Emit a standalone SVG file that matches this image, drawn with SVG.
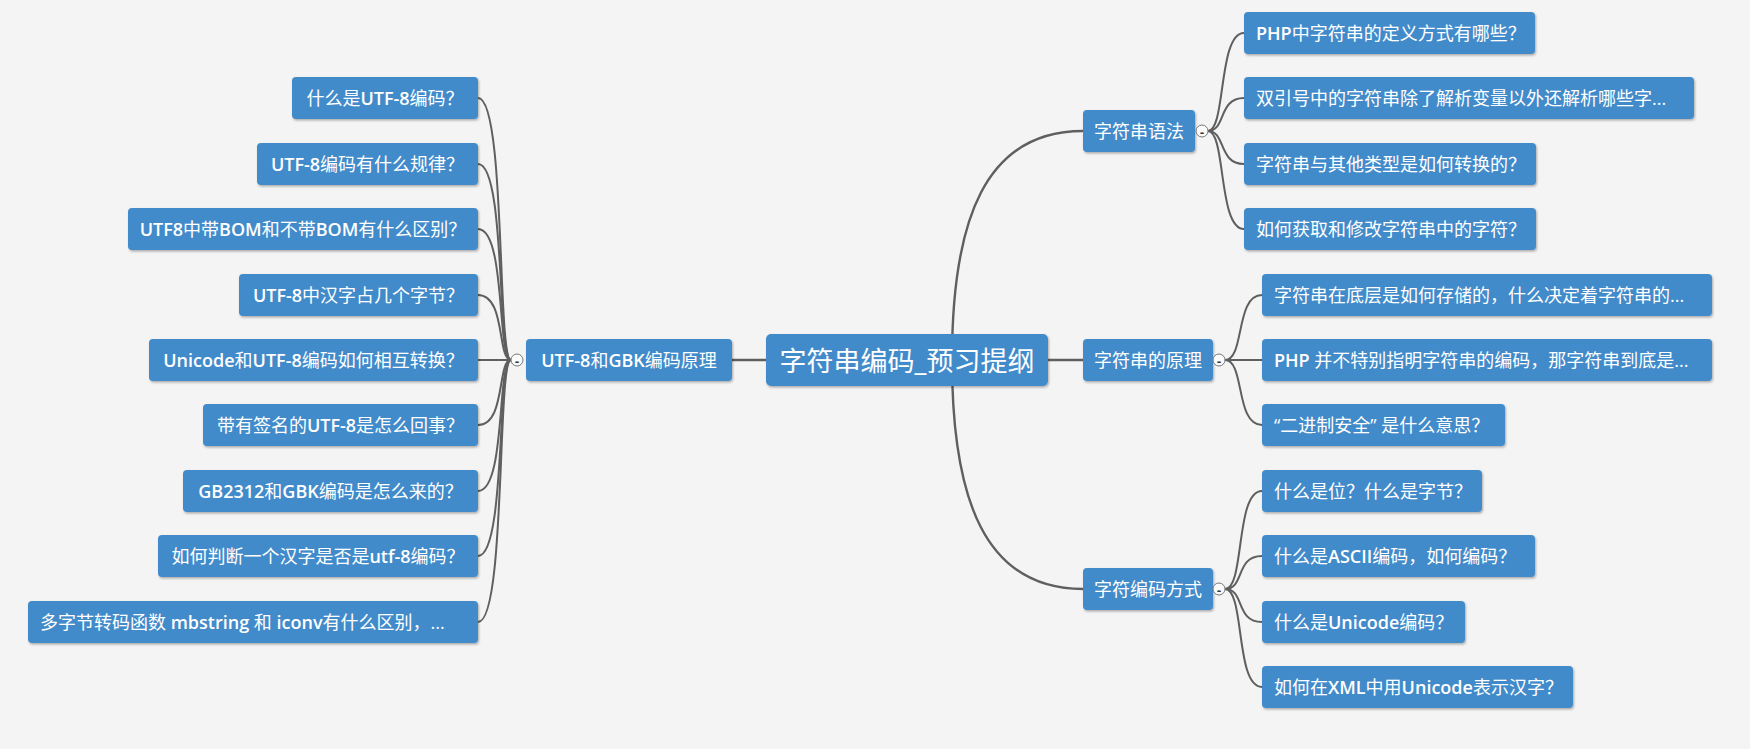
<svg xmlns="http://www.w3.org/2000/svg" width="1750" height="749" viewBox="0 0 1750 749">
<style>
.bg{fill:#f4f4f4}
.box{fill:#428bca;filter:url(#sh)}
.t{font-family:"Open Sans","Noto Sans CJK SC",sans-serif;font-size:18px;fill:#fff;dominant-baseline:central}
.b{font-weight:600}
.m{text-anchor:middle}
.c0{font-size:27px}
.ln{fill:none;stroke:#5f5f5f;stroke-width:2}
.lm{fill:none;stroke:#5f5f5f;stroke-width:2.4}
.tg circle{fill:#fbfbfb;stroke:#777;stroke-width:1}
.tg text{font-family:"DejaVu Sans",sans-serif;font-size:11px;font-weight:bold;fill:#333;text-anchor:middle;dominant-baseline:central}
</style>
<defs>
<filter id="sh" x="-5%" y="-10%" width="112%" height="135%">
<feDropShadow dx="1" dy="1.5" stdDeviation="0.8" flood-color="#000" flood-opacity="0.3"/>
</filter>
</defs>
<rect class="bg" x="0" y="0" width="1750" height="749"/>
<g id="connectors">
<path class="lm" d="M952,360 C952,220 985,131 1083,131"/>
<path class="lm" d="M952,360 C952,500 985,589 1083,589"/>
<path class="lm" d="M1048,360 H1083"/>
<path class="lm" d="M732,360 H766"/>
<path class="ln" d="M511,360 C497,360 506,98 478,98"/>
<path class="ln" d="M511,360 C497,360 506,164 478,164"/>
<path class="ln" d="M511,360 C497,360 506,229 478,229"/>
<path class="ln" d="M511,360 C497,360 506,295 478,295"/>
<path class="ln" d="M511,360 H478"/>
<path class="ln" d="M511,360 C497,360 506,425 478,425"/>
<path class="ln" d="M511,360 C497,360 506,491 478,491"/>
<path class="ln" d="M511,360 C497,360 506,556 478,556"/>
<path class="ln" d="M511,360 C497,360 506,622 478,622"/>
<path class="ln" d="M1208,131 C1226,131 1218,33 1244,33"/>
<path class="ln" d="M1208,131 C1226,131 1218,98 1244,98"/>
<path class="ln" d="M1208,131 C1226,131 1218,164 1244,164"/>
<path class="ln" d="M1208,131 C1226,131 1218,229 1244,229"/>
<path class="ln" d="M1225,360 C1245,360 1235,295 1262,295"/>
<path class="ln" d="M1225,360 H1262"/>
<path class="ln" d="M1225,360 C1245,360 1235,425 1262,425"/>
<path class="ln" d="M1225,589 C1245,589 1235,491 1262,491"/>
<path class="ln" d="M1225,589 C1245,589 1235,556 1262,556"/>
<path class="ln" d="M1225,589 C1245,589 1235,622 1262,622"/>
<path class="ln" d="M1225,589 C1245,589 1235,687 1262,687"/>
</g>
<g id="root">
<rect class="box" x="766" y="334" width="282" height="52" rx="5"/>
<text class="t m c0" x="907" y="360">字符串编码_预习提纲</text>
</g>
<g id="utf8gbk">
<rect class="box" x="526" y="339" width="206" height="42" rx="4"/>
<text class="t m" x="629" y="360"><tspan class="b">UTF-8</tspan>和<tspan class="b">GBK</tspan>编码原理</text>
<g class="tg"><circle cx="517" cy="360" r="6"/><text x="517" y="361">-</text></g>
</g>
<g id="syntax">
<rect class="box" x="1083" y="110" width="112" height="42" rx="4"/>
<text class="t m" x="1139" y="131">字符串语法</text>
<g class="tg"><circle cx="1202" cy="131" r="6"/><text x="1202" y="132">-</text></g>
</g>
<g id="principle">
<rect class="box" x="1083" y="339" width="130" height="42" rx="4"/>
<text class="t m" x="1148" y="360">字符串的原理</text>
<g class="tg"><circle cx="1219" cy="360" r="6"/><text x="1219" y="361">-</text></g>
</g>
<g id="encoding">
<rect class="box" x="1083" y="568" width="130" height="42" rx="4"/>
<text class="t m" x="1148" y="589">字符编码方式</text>
<g class="tg"><circle cx="1219" cy="589" r="6"/><text x="1219" y="590">-</text></g>
</g>
<g id="l1"><rect class="box" x="292" y="77" width="186" height="42" rx="4"/><text class="t m" x="385" y="98">什么是<tspan class="b">UTF-8</tspan>编码？</text></g>
<g id="l2"><rect class="box" x="257" y="143" width="221" height="42" rx="4"/><text class="t m" x="367.5" y="164"><tspan class="b">UTF-8</tspan>编码有什么规律？</text></g>
<g id="l3"><rect class="box" x="128" y="208" width="350" height="42" rx="4"/><text class="t m" x="303" y="229"><tspan class="b">UTF8</tspan>中带<tspan class="b">BOM</tspan>和不带<tspan class="b">BOM</tspan>有什么区别？</text></g>
<g id="l4"><rect class="box" x="239" y="274" width="239" height="42" rx="4"/><text class="t m" x="358.5" y="295"><tspan class="b">UTF-8</tspan>中汉字占几个字节？</text></g>
<g id="l5"><rect class="box" x="149" y="339" width="329" height="42" rx="4"/><text class="t m" x="313.5" y="360"><tspan class="b">Unicode</tspan>和<tspan class="b">UTF-8</tspan>编码如何相互转换？</text></g>
<g id="l6"><rect class="box" x="203" y="404" width="275" height="42" rx="4"/><text class="t m" x="340.5" y="425">带有签名的<tspan class="b">UTF-8</tspan>是怎么回事？</text></g>
<g id="l7"><rect class="box" x="183" y="470" width="295" height="42" rx="4"/><text class="t m" x="330.5" y="491"><tspan class="b">GB2312</tspan>和<tspan class="b">GBK</tspan>编码是怎么来的？</text></g>
<g id="l8"><rect class="box" x="158" y="535" width="320" height="42" rx="4"/><text class="t m" x="318" y="556">如何判断一个汉字是否是<tspan class="b">utf-8</tspan>编码？</text></g>
<g id="l9"><rect class="box" x="28" y="601" width="450" height="42" rx="4"/><text class="t" x="40" y="622">多字节转码函数 <tspan class="b">mbstring</tspan> 和 <tspan class="b">iconv</tspan>有什么区别，...</text></g>
<g id="r0"><rect class="box" x="1244" y="12" width="291" height="42" rx="4"/><text class="t" x="1256" y="33"><tspan class="b">PHP</tspan>中字符串的定义方式有哪些？</text></g>
<g id="r1"><rect class="box" x="1244" y="77" width="450" height="42" rx="4"/><text class="t" x="1256" y="98">双引号中的字符串除了解析变量以外还解析哪些字...</text></g>
<g id="r2"><rect class="box" x="1244" y="143" width="292" height="42" rx="4"/><text class="t" x="1256" y="164">字符串与其他类型是如何转换的？</text></g>
<g id="r3"><rect class="box" x="1244" y="208" width="292" height="42" rx="4"/><text class="t" x="1256" y="229">如何获取和修改字符串中的字符？</text></g>
<g id="r4"><rect class="box" x="1262" y="274" width="450" height="42" rx="4"/><text class="t" x="1274" y="295">字符串在底层是如何存储的，什么决定着字符串的...</text></g>
<g id="r5"><rect class="box" x="1262" y="339" width="450" height="42" rx="4"/><text class="t" x="1274" y="360"><tspan class="b">PHP</tspan> 并不特别指明字符串的编码，那字符串到底是...</text></g>
<g id="r6"><rect class="box" x="1262" y="404" width="243" height="42" rx="4"/><text class="t" x="1274" y="425">“二进制安全” 是什么意思？</text></g>
<g id="r7"><rect class="box" x="1262" y="470" width="220" height="42" rx="4"/><text class="t" x="1274" y="491">什么是位？什么是字节？</text></g>
<g id="r8"><rect class="box" x="1262" y="535" width="273" height="42" rx="4"/><text class="t" x="1274" y="556">什么是<tspan class="b">ASCII</tspan>编码，如何编码？</text></g>
<g id="r9"><rect class="box" x="1262" y="601" width="203" height="42" rx="4"/><text class="t" x="1274" y="622">什么是<tspan class="b">Unicode</tspan>编码？</text></g>
<g id="r10"><rect class="box" x="1262" y="666" width="311" height="42" rx="4"/><text class="t" x="1274" y="687">如何在<tspan class="b">XML</tspan>中用<tspan class="b">Unicode</tspan>表示汉字？</text></g>
</svg>
